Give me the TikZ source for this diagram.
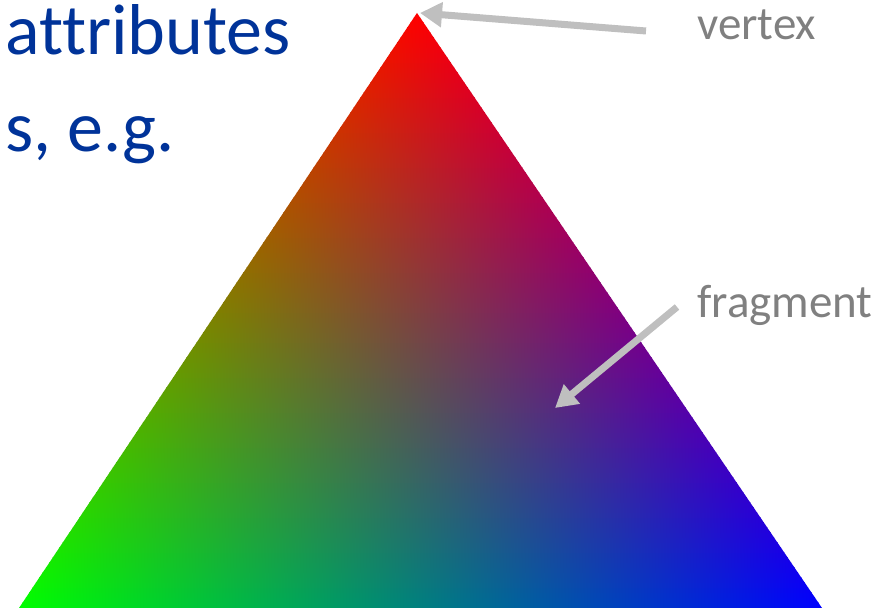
\documentclass[tikz,border=0pt]{standalone}
\usepackage{fontspec}
\setmainfont[Ligatures={NoCommon}]{Carlito}
\usetikzlibrary{arrows.meta}
\definecolor{titleblue}{RGB}{0,51,153}
\definecolor{labelgray}{RGB}{128,128,128}
\definecolor{arrowgray}{RGB}{191,191,191}
\tikzset{
  bigtext/.style={inner sep=0pt, anchor=base west, text=titleblue, font=\fontsize{72bp}{86bp}\selectfont},
  labeltext/.style={inner sep=0pt, anchor=base west, text=labelgray, font=\fontsize{47bp}{56bp}\selectfont},
  grayarrow/.style={draw=arrowgray, line width=7bp, -{Triangle[length=22bp,width=24bp]}}
}
\begin{document}
\begin{tikzpicture}[x=1bp,y=1bp]
\useasboundingbox (0,0) rectangle (890,614);
% triangle: A top (red), B bottom left (green), C bottom right (blue)
\coordinate (A) at (417,601);
\coordinate (B) at (19,6);
\coordinate (C) at (822,6);
\begin{scope}
  \clip (A) -- (B) -- (C) -- cycle;
  \foreach \i in {0,...,118}{
    \pgfmathsetmacro{\yb}{6+\i*5}
    \pgfmathsetmacro{\yt}{\yb+5.8}
    \pgfmathsetmacro{\tb}{(\yb-6)/595}
    \pgfmathsetmacro{\wA}{(\yb+2.5-6)/595}
    \pgfmathsetmacro{\wO}{max(0,1-\wA)}
    \pgfmathsetmacro{\xl}{19+398*\tb-1}
    \pgfmathsetmacro{\xr}{822-405*\tb+1}
    \definecolor{stripL}{rgb}{\wA,\wO,0}
    \definecolor{stripR}{rgb}{\wA,0,\wO}
    \shade[left color=stripL, right color=stripR] (\xl,\yb) rectangle (\xr,\yt);
  }
\end{scope}
\node[bigtext] (t1) at (5,559) {attributes};
\node[bigtext] (t2) at (5,462) {s, e.g.};
\node[labeltext] (vlabel) at (697,574) {vertex};
\node[labeltext] (flabel) at (697,296) {fragment};
\coordinate (vstart) at (646,583);
\coordinate (vtip) at (420,601);
\coordinate (fstart) at (677,307);
\coordinate (ftip) at (555,206);
\draw[grayarrow] (vstart) -- (vtip);
\draw[grayarrow] (fstart) -- (ftip);
\end{tikzpicture}
\end{document}
